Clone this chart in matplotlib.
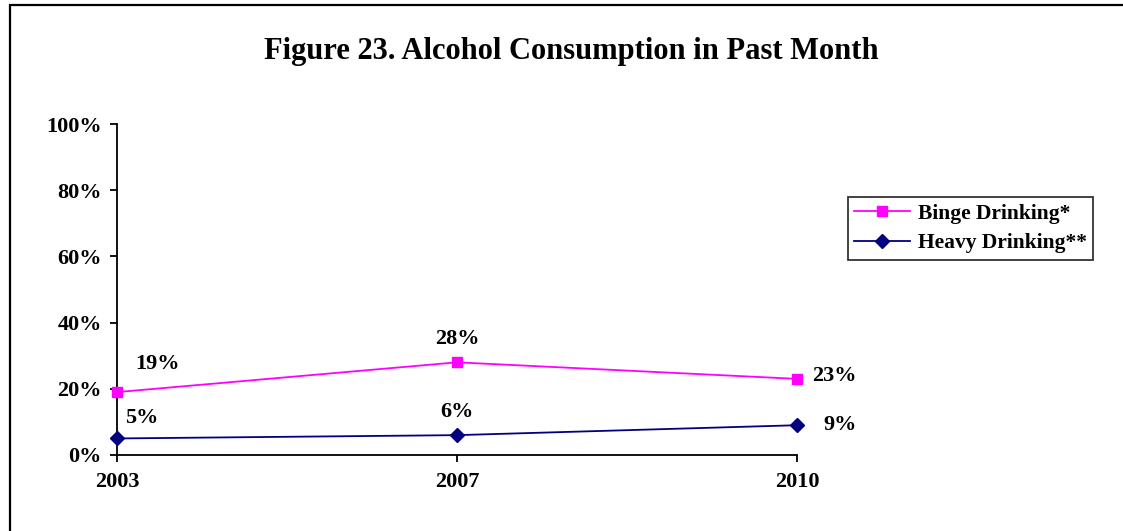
import matplotlib
matplotlib.use("Agg")
import matplotlib.pyplot as plt
from matplotlib.patches import Rectangle
from matplotlib.ticker import FuncFormatter

years = ["2003", "2007", "2010"]
binge = [19, 28, 23]
heavy = [5, 6, 9]
binge_labels = ["19%", "28%", "23%"]
heavy_labels = ["5%", "6%", "9%"]
title = "Figure 23. Alcohol Consumption in Past Month"

plt.rcParams['font.family'] = ['Liberation Serif', 'DejaVu Serif']
plt.rcParams['font.weight'] = 'bold'

W, H = 1123, 531
fig = plt.figure(figsize=(W / 100, H / 100), dpi=100)

# outer frame (left and top visible, right/bottom outside image)
fig.patches.append(Rectangle((10 / W, -0.2), 1.5, 1 - 5 / H + 0.2, transform=fig.transFigure,
                             fill=False, edgecolor='black', linewidth=1.6, clip_on=False))

ax = fig.add_axes([117 / W, 1 - 455 / H, (797 - 117) / W, (455 - 124) / H])
x = list(range(len(years)))
ax.plot(x, binge, color='#FF00FF', marker='s', markersize=7.5, linewidth=1.3,
        label='Binge Drinking*', clip_on=False, zorder=3)
ax.plot(x, heavy, color='#000080', marker='D', markersize=7, linewidth=1.3,
        label='Heavy Drinking**', clip_on=False, zorder=3)

ax.set_xlim(0, 2)
ax.set_ylim(0, 100)
ax.set_xticks(x)
ax.set_xticklabels(years)
ax.set_yticks([0, 20, 40, 60, 80, 100])
ax.yaxis.set_major_formatter(FuncFormatter(lambda v, p: f"{int(v)}%"))
for s in ['top', 'right']:
    ax.spines[s].set_visible(False)
for s in ['left', 'bottom']:
    ax.spines[s].set_linewidth(1.3)
    ax.spines[s].set_clip_on(False)
ax.tick_params(axis='both', direction='out', length=5, width=1.3, labelsize=16)
ax.tick_params(axis='y', pad=6)
ax.tick_params(axis='x', pad=7)
for lbl in ax.get_xticklabels() + ax.get_yticklabels():
    lbl.set_fontweight('bold')

# data labels (offsets in points)
b_off = [(29, 20), (0, 16.5), (27, 2)]
h_off = [(18, 15), (0, 16.5), (31, 0)]
for i in x:
    ax.annotate(binge_labels[i], (x[i], binge[i]), xytext=b_off[i], textcoords='offset points',
                ha='center', va='center', fontsize=16, fontweight='bold', annotation_clip=False)
    ax.annotate(heavy_labels[i], (x[i], heavy[i]), xytext=h_off[i], textcoords='offset points',
                ha='center', va='center', fontsize=16, fontweight='bold', annotation_clip=False)

leg = fig.legend(loc='upper left', bbox_to_anchor=(848 / W, 1 - 197 / H),
                 frameon=True, fancybox=False, shadow=False,
                 prop={'weight': 'bold', 'size': 15.5}, borderaxespad=0,
                 handlelength=2.6, handletextpad=0.35, borderpad=0.3, labelspacing=0.45)
leg.get_frame().set_edgecolor('black')
leg.get_frame().set_linewidth(1.3)

fig.text(571 / W, 1 - 52 / H, title, ha='center', va='center', fontsize=22, fontweight='bold')

fig.savefig('out.png', dpi=100)
